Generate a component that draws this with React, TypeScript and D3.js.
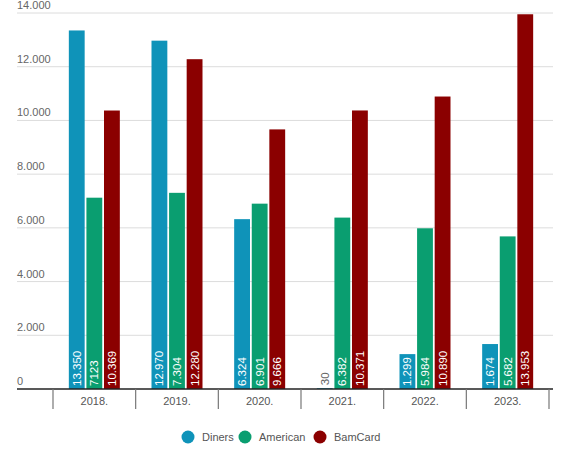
import React from 'react';
import * as d3 from 'd3';

const years = ['2018.', '2019.', '2020.', '2021.', '2022.', '2023.'];
const seriesNames = ['Diners', 'American', 'BamCard'];
const diners = [13350, 12970, 6324, 30, 1299, 1674];
const american = [7123, 7304, 6901, 6382, 5984, 5682];
const bamcard = [10369, 12280, 9666, 10371, 10890, 13953];
// value labels as printed in the source (one of them has no thousands dot)
const dinersLabels = ['13.350', '12.970', '6.324', '30', '1.299', '1.674'];
const americanLabels = ['7123', '7.304', '6.901', '6.382', '5.984', '5.682'];
const bamcardLabels = ['10.369', '12.280', '9.666', '10.371', '10.890', '13.953'];
const colors = ['#0f93b9', '#0a9e70', '#8b0000'];
const yTicks = [0, 2000, 4000, 6000, 8000, 10000, 12000, 14000];

const fmt = (v: number) => d3.format(',')(v).replace(/,/g, '.');

export default function App() {
  const width = 570;
  const height = 463;
  const left = 17;
  const right = 553;
  const top = 13;
  const bottom = 389;
  const series = [diners, american, bamcard];
  const labels = [dinersLabels, americanLabels, bamcardLabels];

  const x = d3.scaleBand<string>().domain(years).range([53, 549]).paddingInner(0).paddingOuter(0);
  const xInner = d3
    .scaleBand<string>()
    .domain(seriesNames)
    .range([x.bandwidth() / 2 - 25.5, x.bandwidth() / 2 + 25.5])
    .paddingInner(0.1);
  const y = d3.scaleLinear().domain([0, 14000]).range([bottom, top]);

  const boundaries = [...years.map((yr) => x(yr)!), x(years[years.length - 1])! + x.bandwidth()];
  const font = '"Liberation Sans", Arial, sans-serif';

  return (
    <svg width={width} height={height} style={{ position: 'absolute', left: 0, top: 0, fontFamily: font }}>
      {/* grid and y labels */}
      {yTicks.map((t) => (
        <g key={t}>
          {t > 0 && <line x1={left} x2={right} y1={y(t)} y2={y(t)} stroke="#dcdcdc" strokeWidth={1} />}
          <text x={left} y={y(t) - 4} fontSize={11} fill="#666">
            {fmt(t)}
          </text>
        </g>
      ))}

      {/* bars */}
      {years.map((yr, i) => (
        <g key={yr} transform={`translate(${x(yr)},0)`}>
          {seriesNames.map((s, j) => {
            const v = series[j][i];
            const bx = xInner(s)!;
            const bw = xInner.bandwidth();
            const h = bottom - y(v);
            const inside = h > 30;
            return (
              <g key={s}>
                <rect x={bx} y={y(v)} width={bw} height={h} fill={colors[j]} />
                <text
                  transform={`translate(${bx + bw / 2 + 4},${inside ? bottom - 3 : y(v) - 3}) rotate(-90)`}
                  fontSize={11.5}
                  fill={inside ? '#fff' : '#666'}
                >
                  {labels[j][i]}
                </text>
              </g>
            );
          })}
        </g>
      ))}

      {/* x axis */}
      <line x1={left} x2={right} y1={bottom} y2={bottom} stroke="#222" strokeWidth={1.5} />
      {boundaries.map((bx, i) => (
        <line key={i} x1={bx} x2={bx} y1={bottom} y2={bottom + 20} stroke="#777" strokeWidth={1.2} />
      ))}
      {years.map((yr) => (
        <text key={yr} x={x(yr)! + x.bandwidth() / 2} y={bottom + 16} fontSize={11} fill="#555" textAnchor="middle">
          {yr}
        </text>
      ))}

      {/* legend */}
      {seriesNames.map((s, j) => {
        const lx = [188, 245, 320][j];
        return (
          <g key={s}>
            <circle cx={lx} cy={437} r={6.5} fill={colors[j]} />
            <text x={lx + 14} y={441} fontSize={11} fill="#555">
              {s}
            </text>
          </g>
        );
      })}
    </svg>
  );
}
